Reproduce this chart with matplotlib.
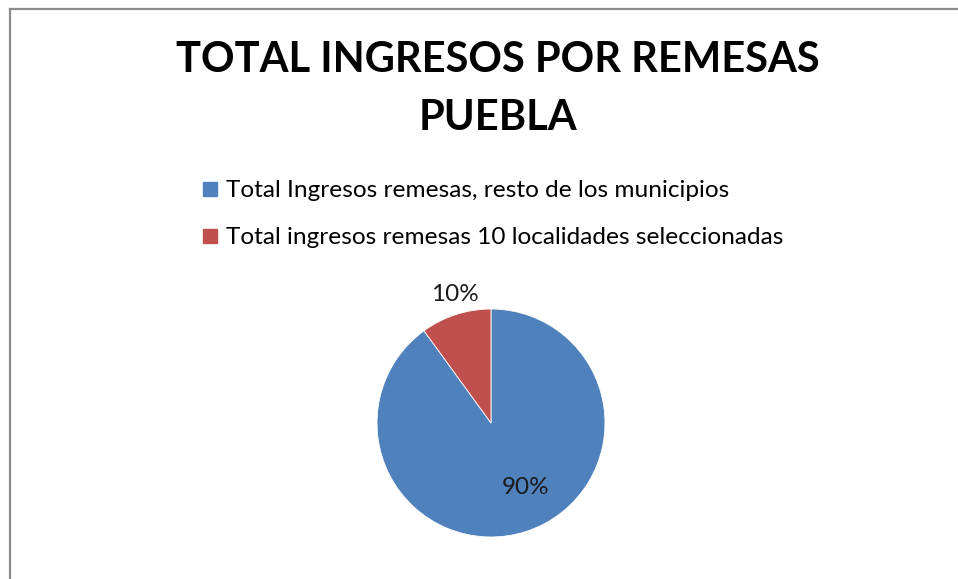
import matplotlib
matplotlib.use("Agg")
import matplotlib.pyplot as plt
from matplotlib.lines import Line2D

title = "TOTAL INGRESOS POR REMESAS\nPUEBLA"
categories = ["Total Ingresos remesas, resto de los municipios",
              "Total ingresos remesas 10 localidades seleccionadas"]
values = [90, 10]
pct_labels = ["90%", "10%"]
colors = ["#4F81BD", "#C0504D"]

W, H = 958, 579
fig = plt.figure(figsize=(W / 100, H / 100), dpi=100)
fig.patch.set_facecolor("white")

# border (top & left visible)
fig.add_artist(Line2D([10 / W, 10 / W], [0, 1 - 9 / H], color="#8c8c8c", lw=1.6, transform=fig.transFigure))
fig.add_artist(Line2D([10 / W, 1], [1 - 9 / H, 1 - 9 / H], color="#8c8c8c", lw=1.6, transform=fig.transFigure))

font = "Lato"
fig.text(498 / W, 1 - 89 / H, title, ha="center", va="center", fontsize=30,
         fontweight="bold", family=font, linespacing=1.62)

cx, cy, r = 491, 423, 114
ax = fig.add_axes([(cx - r) / W, (H - cy - r) / H, 2 * r / W, 2 * r / H])
wedges, _ = ax.pie(values, colors=colors, startangle=90, counterclock=False,
                   radius=1, wedgeprops=dict(edgecolor="white", linewidth=0.6))
ax.set_xlim(-1, 1)
ax.set_ylim(-1, 1)
ax.set_aspect("equal")
ax.axis("off")

label_pos = [(0.30, -0.57), (-0.32, 1.13)]
for (x, y), t in zip(label_pos, pct_labels):
    ax.text(x, y, t, ha="center", va="center", fontsize=17.5, family=font, color="#1a1a1a")

handles = [Line2D([], [], marker="s", linestyle="none", markersize=10,
                  markerfacecolor=c, markeredgecolor=c) for c in colors]
leg = fig.legend(handles, categories, loc="upper left",
                 bbox_to_anchor=(189 / W, 1 - 168 / H), frameon=False,
                 prop=dict(family=font, size=17.6), handletextpad=0.25,
                 handlelength=0.75, labelspacing=1.05, borderpad=0)

fig.savefig("out.png", dpi=100, facecolor="white")
